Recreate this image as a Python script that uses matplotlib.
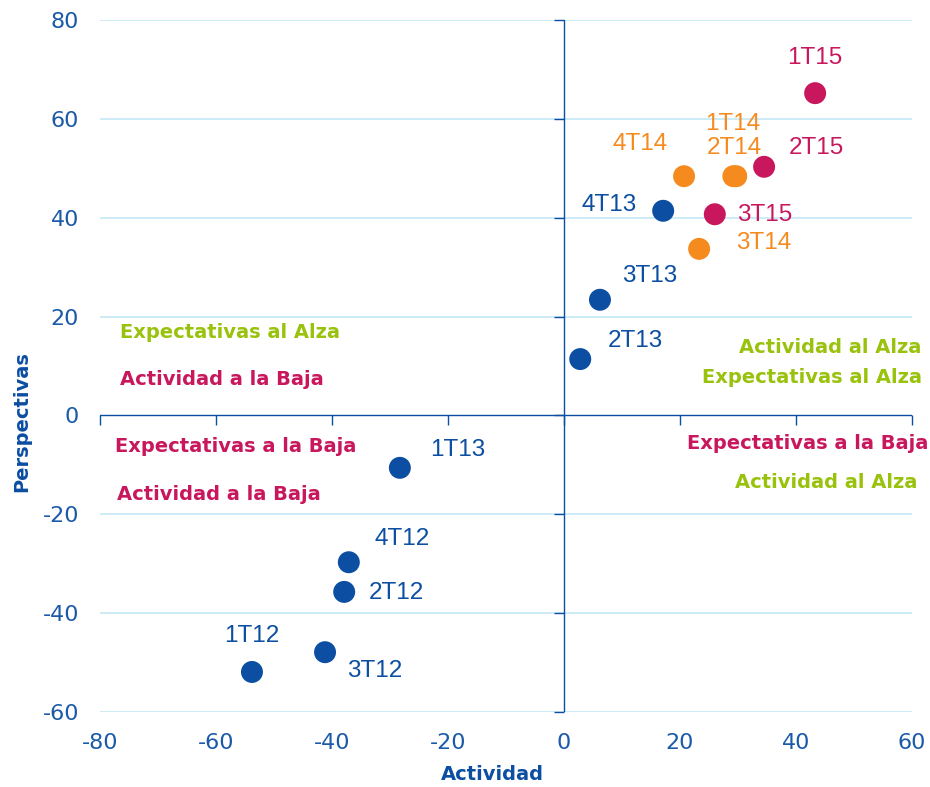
import matplotlib
matplotlib.use('Agg')
from matplotlib import pyplot as plt

plt.rcParams['axes.unicode_minus'] = False

# datos trimestrales: actividad vs perspectivas
periodos = ['1T12', '2T12', '3T12', '4T12',
            '1T13', '2T13', '3T13', '4T13',
            '1T14', '2T14', '3T14', '4T14',
            '1T15', '2T15', '3T15']
actividad = [-53.8, -37.9, -41.2, -37.1,
             -28.3, 2.8, 6.2, 17.1,
             29.2, 29.7, 23.3, 20.7,
             43.3, 34.5, 26.0]
perspectivas = [-51.9, -35.7, -47.9, -29.7,
                -10.6, 11.4, 23.4, 41.4,
                48.4, 48.4, 33.7, 48.4,
                65.2, 50.3, 40.7]
anio = ['12'] * 4 + ['13'] * 4 + ['14'] * 4 + ['15'] * 3

x_ticks = [-80, -60, -40, -20, 0, 20, 40, 60]
y_ticks = [-60, -40, -20, 0, 20, 40, 60, 80]

AZUL = '#0b4ea2'
NARANJA = '#f58b1f'
MAGENTA = '#c8175d'
VERDE = '#99c20c'
GRID = '#c5e8f7'
colores = {'12': AZUL, '13': AZUL, '14': NARANJA, '15': MAGENTA}

# desplazamiento de etiquetas (pixeles)
offsets = [(0, 36), (52, -1), (50, -19), (53, 23),
           (58, 18), (55, 18), (50, 24), (-54, 6),
           (-1, 52), (-2, 28), (65, 6), (-44, 32),
           (0, 35), (52, 19), (50, -1)]

fig = plt.figure(figsize=(9.3, 7.87), dpi=100)
ax = fig.add_axes([100 / 930, 1 - 712 / 787, 812 / 930, 692 / 787])
ax.set_xlim(-80, 60)
ax.set_ylim(-60, 80)

for s in ax.spines.values():
    s.set_visible(False)

# rejilla horizontal
for yv in y_ticks:
    if yv != 0:
        ax.axhline(yv, color=GRID, lw=1.2, zorder=0)

# ejes en cero
ax.axhline(0, color=AZUL, lw=1.0, zorder=1)
ax.axvline(0, color=AZUL, lw=1.0, zorder=1)
ax.plot(x_ticks, [0] * len(x_ticks), ls='none', marker=3, ms=7,
        mec=AZUL, mew=1.0, clip_on=False, zorder=1)
ax.plot([0] * len(y_ticks), y_ticks, ls='none', marker=0, ms=7,
        mec=AZUL, mew=1.0, clip_on=False, zorder=1)

ax.set_xticks(x_ticks)
ax.set_yticks(y_ticks)
ax.tick_params(length=0, labelsize=16, labelcolor='#1a5aa8', pad=15)
for lab in ax.get_xticklabels() + ax.get_yticklabels():
    lab.set_family('DejaVu Sans')

cols = [colores[a] for a in anio]
ax.scatter(actividad, perspectivas, s=250, c=cols, linewidths=0, zorder=3)

for p, x, y, c, off in zip(periodos, actividad, perspectivas, cols, offsets):
    ax.annotate(p, (x, y), xytext=off, textcoords='offset pixels',
                ha='center', va='center', fontsize=17.5, color=c,
                family='Liberation Sans')

# textos de cuadrantes
kw = dict(fontsize=14, fontweight='bold', family='DejaVu Sans', va='center')
ax.text(-76.6, 16.7, 'Expectativas al Alza', color=VERDE, ha='left', **kw)
ax.text(-76.6, 7.2, 'Actividad a la Baja', color=MAGENTA, ha='left', **kw)
ax.text(-77.4, -6.2, 'Expectativas a la Baja', color=MAGENTA, ha='left', **kw)
ax.text(-77.1, -15.9, 'Actividad a la Baja', color=MAGENTA, ha='left', **kw)
ax.text(61.7, 13.8, 'Actividad al Alza', color=VERDE, ha='right', **kw)
ax.text(61.7, 7.6, 'Expectativas al Alza', color=VERDE, ha='right', **kw)
ax.text(62.8, -5.6, 'Expectativas a la Baja', color=MAGENTA, ha='right', **kw)
ax.text(61.0, -13.5, 'Actividad al Alza', color=VERDE, ha='right', **kw)

fig.text(492 / 930, 1 - 775 / 787, 'Actividad', ha='center', va='center',
         fontsize=14, fontweight='bold', color=AZUL, family='DejaVu Sans')
fig.text(22 / 930, 1 - 422 / 787, 'Perspectivas', ha='center', va='center',
         rotation=90, fontsize=14, fontweight='bold', color=AZUL,
         family='DejaVu Sans')

fig.savefig('out.png', dpi=100)
plt.close(fig)
